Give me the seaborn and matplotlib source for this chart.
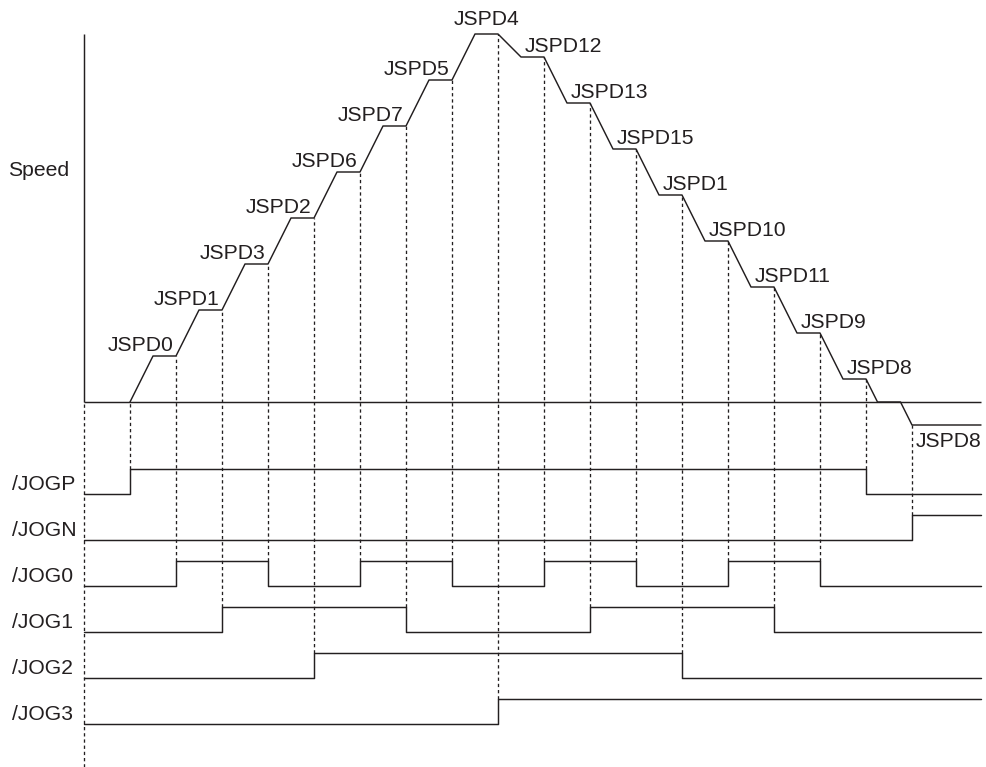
import matplotlib

matplotlib.use("Agg")
import matplotlib.pyplot as plt
import numpy as np
import pandas as pd
import seaborn as sns

# speed profile breakpoints (time in switching steps, speed in preset levels)
SPEED_T = [0, 0.5, 1, 1.5, 2, 2.5, 3, 3.5, 4, 4.5, 5, 5.5, 6, 6.5, 7, 7.5, 8,
           8.5, 9, 9.5, 10, 10.5, 11, 11.5, 12, 12.5, 13, 13.5, 14, 14.5, 15,
           15.5, 16, 16.25, 16.75, 17, 18.5]
SPEED_V = [0, 1, 1, 2, 2, 3, 3, 4, 4, 5, 5, 6, 6, 7, 7, 8, 8,
           7.5, 7.5, 6.5, 6.5, 5.5, 5.5, 4.5, 4.5, 3.5, 3.5, 2.5, 2.5, 1.5, 1.5,
           0.5, 0.5, 0, 0, -0.5, -0.5]
SPEED_LABELS = ["JSPD0", "JSPD1", "JSPD3", "JSPD2", "JSPD6", "JSPD7", "JSPD5",
                "JSPD4", "JSPD12", "JSPD13", "JSPD15", "JSPD1", "JSPD10",
                "JSPD11", "JSPD9", "JSPD8", "JSPD8"]

# input signals: name and the step times at which each one toggles (starts low)
SIGNALS = ["/JOGP", "/JOGN", "/JOG0", "/JOG1", "/JOG2", "/JOG3"]
JOGP_EDGES = [0, 16]
JOGN_EDGES = [17]
JOG0_EDGES = [1, 3, 5, 7, 9, 11, 13, 15]
JOG1_EDGES = [2, 6, 10, 14]
JOG2_EDGES = [4, 12]
JOG3_EDGES = [8]
EDGES = [JOGP_EDGES, JOGN_EDGES, JOG0_EDGES, JOG1_EDGES, JOG2_EDGES, JOG3_EDGES]

T_START, T_END = -1, 18.5
AMP = 0.55
INK = "#231f20"
FS = 15.2

sns.set_theme(style="white")
plt.rcParams["font.family"] = ["Liberation Sans", "DejaVu Sans"]

fig = plt.figure(figsize=(9.86, 7.67), dpi=100)
ax = fig.add_axes([0, 0, 1, 1])
ax.set_xlim(-130 / 46, 856 / 46)
ax.set_ylim(-365 / 46, 402 / 46)
ax.axis("off")

line_kw = dict(color=INK, linewidth=1.05, estimator=None, sort=False,
               legend=False, ax=ax)
dot_kw = dict(colors=INK, linewidth=0.95, linestyles=(0, (2.5, 2.2)))

# speed axis and baseline
ax.vlines(T_START, 0, 8, colors=INK, linewidth=1.05)
ax.hlines(0, T_START, T_END, colors=INK, linewidth=1.05)

# speed curve
speed = pd.DataFrame({"t": SPEED_T, "v": SPEED_V})
sns.lineplot(data=speed, x="t", y="v", **line_kw)

# digital signals
lows = []
for i, (name, edges) in enumerate(zip(SIGNALS, EDGES)):
    low = -(i + 2)
    lows.append(low)
    times = [T_START] + edges + [T_END]
    states = [(k % 2) for k in range(len(edges) + 1)]
    states.append(states[-1])
    df = pd.DataFrame({"t": times, "v": [low + AMP * s for s in states]})
    sns.lineplot(data=df, x="t", y="v", drawstyle="steps-post", **line_kw)
    ax.text(-2.565, low + 0.08, name, fontsize=FS, color=INK,
            ha="left", va="baseline")

# dotted guide lines from the speed curve to the switching signal
for i, edges in enumerate(EDGES):
    for t in edges:
        top = np.interp(t, SPEED_T, SPEED_V)
        ax.vlines(t, lows[i] + AMP, top, **dot_kw)
ax.vlines(T_START, ax.get_ylim()[0], 0, **dot_kw)

# speed labels
for i, lab in enumerate(SPEED_LABELS):
    if i < 7:
        lvl = np.interp(i + 1, SPEED_T, SPEED_V)
        ax.text(i + 1 - 0.06, lvl + 0.11, lab, fontsize=FS, color=INK,
                ha="right", va="baseline")
    elif i == 7:
        ax.text(7.75, 8.2, lab, fontsize=FS, color=INK,
                ha="center", va="baseline")
    elif i < 16:
        lvl = np.interp(i + 1, SPEED_T, SPEED_V)
        ax.text(i + 0.57, lvl + 0.11, lab, fontsize=FS, color=INK,
                ha="left", va="baseline")
    else:
        ax.text(17.08, -0.66, lab, fontsize=FS, color=INK,
                ha="left", va="top")

ax.text(-2.652, 4.91, "Speed", fontsize=FS, color=INK, ha="left", va="baseline")

fig.savefig("out.png", dpi=100)
